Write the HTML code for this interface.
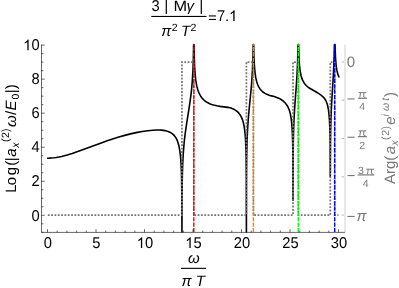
<!DOCTYPE html>
<html><head><meta charset="utf-8"><title>plot</title>
<style>html,body{margin:0;padding:0;background:#fff;overflow:hidden}body{width:399px;height:288px;position:relative}</style></head>
<body>
<svg width="399" height="288" viewBox="0 0 399 288" style="position:absolute;left:0;top:0;will-change:transform;text-rendering:geometricPrecision;font-family:'Liberation Sans',sans-serif">
<rect width="399" height="288" fill="#fff"/>
<path d="M47.01 158.18 L49.25 158.15 L51.58 158.02 L53.91 157.78 L56.34 157.44 L58.87 156.99 L61.49 156.44 L64.31 155.75 L67.22 154.95 L72.18 153.43 L77.72 151.55 L101.23 142.88 L107.16 140.79 L112.60 138.97 L118.82 137.04 L124.75 135.36 L130.48 133.89 L136.12 132.63 L142.14 131.50 L147.78 130.68 L152.93 130.18 L157.49 130.02 L159.53 130.05 L161.48 130.17 L163.32 130.37 L164.97 130.65 L166.53 131.01 L167.99 131.45 L169.25 131.95 L170.51 132.57 L171.48 133.15 L172.46 133.86 L173.33 134.61 L174.11 135.40 L174.89 136.34 L175.57 137.30 L176.25 138.43 L176.83 139.59 L177.41 141.00 L177.99 142.65 L178.48 144.28 L178.97 146.21 L179.74 150.28 L180.33 154.65 L180.72 158.71 L181.10 164.53 L181.40 171.25 L181.59 178.27 L181.83 197.03 L181.95 232.00 L182.07 196.63 L182.24 180.75 L182.39 173.60 L182.66 164.90 L183.24 153.59 L184.02 143.97 L184.60 138.43 L185.19 133.65 L186.55 124.06 L189.07 108.21 L190.04 101.72 L190.92 95.11 L191.70 88.04 L192.38 80.01 L192.96 69.94 L193.35 58.71 L193.61 44.50 L193.99 44.50 L194.24 56.63 L194.61 66.55 L195.10 73.84 L195.68 79.39 L196.07 82.09 L196.55 84.80 L197.04 86.99 L197.62 89.15 L198.30 91.21 L198.98 92.91 L199.86 94.72 L200.73 96.21 L201.61 97.47 L202.58 98.65 L203.65 99.75 L204.81 100.78 L206.08 101.72 L207.44 102.58 L208.80 103.30 L210.25 103.94 L211.71 104.48 L213.36 104.99 L216.86 105.81 L220.07 106.35 L228.04 107.39 L229.88 107.74 L231.05 108.08 L232.51 108.64 L233.77 109.22 L234.93 109.87 L236.39 110.85 L237.66 111.92 L238.82 113.14 L239.89 114.53 L240.86 116.10 L241.74 117.87 L242.42 119.59 L243.10 121.74 L243.68 124.09 L244.17 126.58 L244.55 129.09 L244.94 132.33 L245.23 135.50 L245.53 139.75 L245.91 148.83 L246.11 157.05 L246.30 175.25 L246.40 232.00 L246.44 190.45 L246.52 171.57 L246.69 155.52 L247.08 140.03 L247.57 129.42 L248.25 119.38 L249.02 110.49 L251.06 89.74 L251.65 82.76 L252.04 77.22 L252.42 70.32 L252.72 63.44 L253.20 44.50 L253.59 44.50 L253.69 46.15 L253.88 54.46 L254.17 61.82 L254.56 67.88 L255.15 73.59 L255.83 77.91 L256.60 81.30 L257.57 84.30 L258.16 85.69 L258.74 86.86 L260.00 88.90 L261.36 90.54 L262.14 91.30 L263.02 92.03 L264.96 93.34 L266.90 94.34 L269.14 95.24 L270.50 95.64 L274.29 96.56 L277.98 97.91 L279.44 98.58 L280.70 99.27 L281.87 100.03 L283.03 100.93 L284.30 102.07 L285.46 103.31 L286.53 104.65 L287.40 105.99 L288.18 107.43 L288.96 109.22 L289.54 110.88 L290.13 112.95 L290.90 116.74 L291.58 121.85 L292.07 127.72 L292.46 135.78 L292.71 145.57 L292.85 155.95 L293.00 200.50 L293.14 156.93 L293.33 141.25 L293.62 129.43 L294.01 119.61 L294.50 110.76 L295.08 102.17 L296.44 83.98 L297.12 73.04 L297.61 62.02 L298.01 45.79 L298.09 44.50 L298.59 44.50 L298.77 51.46 L299.06 58.73 L299.45 64.60 L299.94 69.29 L300.42 72.51 L301.11 75.73 L301.88 78.36 L302.85 80.72 L303.83 82.48 L304.89 83.98 L306.25 85.50 L307.71 86.81 L308.98 87.75 L310.53 88.77 L315.78 91.73 L318.89 93.67 L321.41 95.46 L322.38 96.26 L323.26 97.09 L324.04 97.94 L324.72 98.82 L325.30 99.70 L325.88 100.75 L326.85 103.03 L327.34 104.54 L327.73 106.01 L328.41 109.49 L328.99 114.09 L329.48 120.46 L329.77 126.91 L329.96 133.97 L330.11 142.78 L330.28 176.50 L330.49 141.27 L330.64 130.96 L330.94 119.25 L331.23 111.45 L331.62 103.48 L333.17 78.30 L333.66 69.15 L334.14 56.22 L334.41 44.50 L335.02 44.50 L335.31 53.16 L335.60 58.86 L335.99 63.77 L336.47 67.83 L336.96 70.66 L337.64 73.49 L338.32 75.54 L339.19 77.48" fill="none" stroke="#000" stroke-width="1.6" stroke-linejoin="round"/>
<path d="M47.80 215.2H181.95V62.0H193.80V215.2H246.40V62.0H253.40V215.2H293.00V62.0H298.30V215.2H330.30V62.0H334.70V215.2H338.50" fill="none" stroke="#767676" stroke-width="1.75" stroke-dasharray="1.85 1.48"/>
<path d="M193.80 232.4V44.0" fill="none" stroke="#ff0000" stroke-width="1.4" stroke-dasharray="4.1 1.22" stroke-dashoffset="4.92"/>
<path d="M253.40 232.4V44.0" fill="none" stroke="#ff8000" stroke-width="1.4" stroke-dasharray="4.1 1.22" stroke-dashoffset="4.92"/>
<path d="M298.30 232.4V44.0" fill="none" stroke="#00ff00" stroke-width="1.4" stroke-dasharray="4.1 1.22" stroke-dashoffset="4.92"/>
<path d="M334.70 232.4V44.0" fill="none" stroke="#0000ff" stroke-width="1.4" stroke-dasharray="4.1 1.22" stroke-dashoffset="4.92"/>
<rect x="344.0" y="44.5" width="2" height="187.9" fill="#e8e8e8"/>
<path d="M41.5 44.5V232.4H345.0" fill="none" stroke="#000" stroke-width="0.6"/>
<path d="M41.5 232.32h1.9M41.5 223.81h1.9M41.5 215.30h3.2M41.5 206.79h1.9M41.5 198.28h1.9M41.5 189.77h1.9M41.5 181.26h3.2M41.5 172.75h1.9M41.5 164.24h1.9M41.5 155.73h1.9M41.5 147.22h3.2M41.5 138.71h1.9M41.5 130.20h1.9M41.5 121.69h1.9M41.5 113.18h3.2M41.5 104.67h1.9M41.5 96.16h1.9M41.5 87.65h1.9M41.5 79.14h3.2M41.5 70.63h1.9M41.5 62.12h1.9M41.5 53.61h1.9M41.5 45.10h3.2" stroke="#000" stroke-width="0.6" fill="none"/>
<path d="M47.50 232.4v-3.2M57.20 232.4v-1.9M66.90 232.4v-1.9M76.60 232.4v-1.9M86.30 232.4v-1.9M96.00 232.4v-3.2M105.70 232.4v-1.9M115.40 232.4v-1.9M125.10 232.4v-1.9M134.80 232.4v-1.9M144.50 232.4v-3.2M154.20 232.4v-1.9M163.90 232.4v-1.9M173.60 232.4v-1.9M183.30 232.4v-1.9M193.00 232.4v-3.2M202.70 232.4v-1.9M212.40 232.4v-1.9M222.10 232.4v-1.9M231.80 232.4v-1.9M241.50 232.4v-3.2M251.20 232.4v-1.9M260.90 232.4v-1.9M270.60 232.4v-1.9M280.30 232.4v-1.9M290.00 232.4v-3.2M299.70 232.4v-1.9M309.40 232.4v-1.9M319.10 232.4v-1.9M328.80 232.4v-1.9M338.50 232.4v-3.2" stroke="#000" stroke-width="0.6" fill="none"/>
<path d="M344.0 61.90h-2.4M344.0 100.20h-2.4M344.0 138.50h-2.4M344.0 176.80h-2.4M344.0 215.10h-2.4" stroke="#8a8a8a" stroke-width="0.6" fill="none"/>
<text transform="translate(39.6,220.50) scale(0.98,1.045)" font-size="15" text-anchor="end" fill="#000">0</text>
<text transform="translate(39.6,186.46) scale(0.98,1.045)" font-size="15" text-anchor="end" fill="#000">2</text>
<text transform="translate(39.6,152.42) scale(0.98,1.045)" font-size="15" text-anchor="end" fill="#000">4</text>
<text transform="translate(39.6,118.38) scale(0.98,1.045)" font-size="15" text-anchor="end" fill="#000">6</text>
<text transform="translate(39.6,84.34) scale(0.98,1.045)" font-size="15" text-anchor="end" fill="#000">8</text>
<text transform="translate(39.6,50.30) scale(0.98,1.045)" font-size="15" text-anchor="end" fill="#000">0</text>
<path transform="translate(23.15,50.30) scale(0.007178,-0.007324)" d="M763 0L583 0L583 1147Q518 1085 412.5 1023Q307 961 223 934L223 1108Q376 1180 490.5 1282.5Q605 1385 647 1474L763 1474Z" fill="#000"/>
<text transform="translate(47.90,248) scale(0.98,1.045)" font-size="15" text-anchor="middle" fill="#000">0</text>
<text transform="translate(96.40,248) scale(0.98,1.045)" font-size="15" text-anchor="middle" fill="#000">5</text>
<path transform="translate(136.73,248.00) scale(0.007178,-0.007324)" d="M763 0L583 0L583 1147Q518 1085 412.5 1023Q307 961 223 934L223 1108Q376 1180 490.5 1282.5Q605 1385 647 1474L763 1474Z" fill="#000"/>
<text transform="translate(144.90,248) scale(0.98,1.045)" font-size="15" text-anchor="start" fill="#000">0</text>
<path transform="translate(185.23,248.00) scale(0.007178,-0.007324)" d="M763 0L583 0L583 1147Q518 1085 412.5 1023Q307 961 223 934L223 1108Q376 1180 490.5 1282.5Q605 1385 647 1474L763 1474Z" fill="#000"/>
<text transform="translate(193.40,248) scale(0.98,1.045)" font-size="15" text-anchor="start" fill="#000">5</text>
<text transform="translate(241.90,248) scale(0.98,1.045)" font-size="15" text-anchor="middle" fill="#000">20</text>
<text transform="translate(290.40,248) scale(0.98,1.045)" font-size="15" text-anchor="middle" fill="#000">25</text>
<text transform="translate(338.90,248) scale(0.98,1.045)" font-size="15" text-anchor="middle" fill="#000">30</text>
<g font-size="15" fill="#000">
<text transform="translate(151.6,10.5) scale(0.98,1.045)">3</text><rect x="165.7" y="0" width="1.2" height="13.9"/><text x="173.6" y="10.5" textLength="13.6" lengthAdjust="spacingAndGlyphs">M</text><text x="186.4" y="10.5" font-style="italic">γ</text><rect x="200.7" y="0" width="1.2" height="13.9"/>
<rect x="151.3" y="15.9" width="55.2" height="1.1"/>
<text x="161.3" y="35.5" font-style="italic">π</text><text x="171.8" y="31.0" font-size="10.5">2</text><text x="180.9" y="35.5" font-style="italic">T</text><text x="190.6" y="31.0" font-size="10.5">2</text>
<rect x="208.8" y="15.4" width="7.1" height="1.1"/><rect x="208.8" y="18.9" width="7.1" height="1.1"/><text transform="translate(217.0,21) scale(0.98,1.045)">7</text><text x="224.9" y="21">.</text><path transform="translate(229.00,21.00) scale(0.007324,-0.007324)" d="M763 0L583 0L583 1147Q518 1085 412.5 1023Q307 961 223 934L223 1108Q376 1180 490.5 1282.5Q605 1385 647 1474L763 1474Z" fill="#000"/>
<text x="187.9" y="263" font-style="italic">ω</text>
<rect x="181" y="267.8" width="25" height="1.1"/>
<text x="181.6" y="286.3" font-style="italic">π</text><text x="195.7" y="286.3" font-style="italic">T</text>
<g transform="translate(16.1,192.85) rotate(-90)"><text y="0" x="0 7.7 17.7 27.0 31.6">Log(|</text><text y="0" x="36.1" font-style="italic">a</text><text x="45.0" y="2.7" font-size="10.5" font-style="italic">x</text><text x="50.8 54.85 60.85" y="-6.8" font-size="10.5">(2)</text><text x="65.8" y="0" font-style="italic">ω</text><text x="77.9" y="0">/</text><text x="82.3" y="0" font-style="italic">E</text><text x="93.3" y="2.8" font-size="10.5">0</text><text x="99.6 103.7" y="0">|)</text></g>
</g>
<g font-size="15" fill="#7a7a7a">
<text x="346.8" y="67.2">0</text>
<rect x="347.5" y="98.40" width="7.2" height="1.1"/>
<rect x="357.9" y="97.70" width="9.1" height="1.2"/>
<path d="M358.60 92.60H366.30M360.60 92.60L359.80 97.50M363.90 92.60L363.70 96.90Q363.80 97.50 365.50 97.30" fill="none" stroke="#7a7a7a" stroke-width="1"/>
<text x="362.25" y="110.30" font-size="10.5" text-anchor="middle">4</text>
<rect x="347.5" y="136.70" width="7.2" height="1.1"/>
<rect x="357.9" y="136.00" width="9.1" height="1.2"/>
<path d="M358.60 130.90H366.30M360.60 130.90L359.80 135.80M363.90 130.90L363.70 135.20Q363.80 135.80 365.50 135.60" fill="none" stroke="#7a7a7a" stroke-width="1"/>
<text x="362.25" y="148.60" font-size="10.5" text-anchor="middle">2</text>
<rect x="347.5" y="175.00" width="7.2" height="1.1"/>
<rect x="357.6" y="174.30" width="16.7" height="1.2"/>
<text x="358.1" y="174.00" font-size="10.5">3</text><path d="M366.30 169.20H374.00M368.30 169.20L367.50 174.10M371.60 169.20L371.40 173.50Q371.50 174.10 373.20 173.90" fill="none" stroke="#7a7a7a" stroke-width="1"/>
<text x="365.75" y="186.90" font-size="10.5" text-anchor="middle">4</text>
<rect x="347.4" y="215.90" width="7.3" height="1.1"/><text x="356.6" y="220.70" font-style="italic">π</text>
<g transform="translate(395.3,183.4) rotate(-90)"><text x="-0.7" y="0">Arg(</text><text x="29.1" y="0" font-style="italic">a</text><text x="37.8" y="2.7" font-size="10.5" font-style="italic">x</text><text x="43.45 47.55 53.8" y="-6.3" font-size="10.5">(2)</text><text x="58.7" y="0" font-style="italic">e</text><text x="67.0 72.3 82.6" y="-6.8" font-size="10.5" font-style="italic">iωt</text><text x="86.45" y="0">)</text></g>
</g>
</svg>
</body></html>
